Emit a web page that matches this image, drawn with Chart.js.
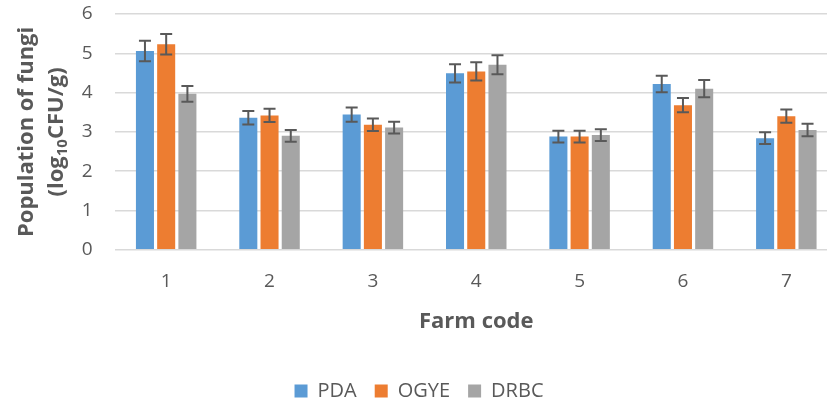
<!DOCTYPE html>
<html>
<head>
<meta charset="utf-8">
<script src="https://cdn.jsdelivr.net/npm/chart.js@4.4.0/dist/chart.umd.min.js"></script>
<style>
  html, body { margin: 0; padding: 0; background: #fff; overflow: hidden; }
  #wrap { width: 840px; height: 411px; }
</style>
</head>
<body>
<div id="wrap"><canvas id="chart" width="840" height="411"></canvas></div>
<script>
const categories = ['1', '2', '3', '4', '5', '6', '7'];

const pda     = [5.06, 3.36, 3.44, 4.49, 2.88, 4.22, 2.84];
const pdaErr  = [0.26, 0.17, 0.18, 0.23, 0.15, 0.21, 0.15];
const ogye    = [5.23, 3.42, 3.18, 4.54, 2.88, 3.68, 3.40];
const ogyeErr = [0.26, 0.17, 0.16, 0.23, 0.15, 0.18, 0.17];
const drbc    = [3.97, 2.90, 3.11, 4.71, 2.92, 4.10, 3.05];
const drbcErr = [0.20, 0.15, 0.15, 0.24, 0.15, 0.22, 0.16];

const yMin = 0, yMax = 6, yStep = 1;

const TEXT = '#595959';
const FONT = "'Open Sans', 'DejaVu Sans', sans-serif";

// error bars drawn on top of each bar
const errorBars = {
  id: 'errorBars',
  afterDatasetsDraw(chart) {
    const ctx = chart.ctx;
    const y = chart.scales.y;
    ctx.save();
    ctx.strokeStyle = TEXT;
    ctx.lineWidth = 2;
    chart.data.datasets.forEach((ds, di) => {
      const meta = chart.getDatasetMeta(di);
      meta.data.forEach((bar, i) => {
        const v = ds.data[i], e = ds.errors[i];
        const top = y.getPixelForValue(v + e);
        const bot = y.getPixelForValue(v - e);
        const x = bar.x, cap = 6;
        ctx.beginPath();
        ctx.moveTo(x, top); ctx.lineTo(x, bot);
        ctx.moveTo(x - cap, top); ctx.lineTo(x + cap, top);
        ctx.moveTo(x - cap, bot); ctx.lineTo(x + cap, bot);
        ctx.stroke();
      });
    });
    ctx.restore();
  }
};

// y axis title, second line has a subscript 10
const yTitle = {
  id: 'yTitle',
  afterDraw(chart) {
    const ctx = chart.ctx;
    const cy = (chart.chartArea.top + chart.chartArea.bottom) / 2;
    const big = 'bold 22px ' + FONT, small = 'bold 15px ' + FONT;
    ctx.save();
    ctx.fillStyle = TEXT;
    ctx.textBaseline = 'middle';

    ctx.save();
    ctx.font = big;
    ctx.translate(27, cy);
    ctx.rotate(-Math.PI / 2);
    ctx.textAlign = 'center';
    ctx.fillText('Population of fungi', 0, 0);
    ctx.restore();

    const parts = [['(log', big, 0], ['10', small, 6], ['CFU/g)', big, 0]];
    let total = 0;
    parts.forEach(p => { ctx.font = p[1]; total += ctx.measureText(p[0]).width; });
    ctx.save();
    ctx.translate(57, cy);
    ctx.rotate(-Math.PI / 2);
    ctx.textAlign = 'left';
    let x = -total / 2;
    parts.forEach(p => {
      ctx.font = p[1];
      ctx.fillText(p[0], x, p[2]);
      x += ctx.measureText(p[0]).width;
    });
    ctx.restore();
    ctx.restore();
  }
};

new Chart(document.getElementById('chart'), {
  type: 'bar',
  data: {
    labels: categories,
    datasets: [
      { label: 'PDA',  data: pda,  errors: pdaErr,  backgroundColor: '#5B9BD5' },
      { label: 'OGYE', data: ogye, errors: ogyeErr, backgroundColor: '#ED7D31' },
      { label: 'DRBC', data: drbc, errors: drbcErr, backgroundColor: '#A5A5A5' },
    ]
  },
  options: {
    responsive: false,
    animation: false,
    categoryPercentage: 0.616,
    barPercentage: 0.85,
    layout: { padding: { top: 14, right: 2, left: 0, bottom: 0 } },
    plugins: {
      legend: {
        position: 'bottom',
        labels: {
          boxWidth: 13, boxHeight: 13, padding: 18,
          color: TEXT, font: { family: FONT, size: 20 }
        }
      },
      tooltip: { enabled: false }
    },
    scales: {
      x: {
        grid: { display: false },
        border: { display: false },
        ticks: { color: TEXT, font: { family: FONT, size: 19 }, padding: 12 },
        title: {
          display: true, text: 'Farm code', color: TEXT,
          font: { family: FONT, size: 22, weight: 'bold' }, padding: { top: 4, bottom: 28 }
        }
      },
      y: {
        min: yMin, max: yMax,
        // fixed axis width; tick padding should not push the plot down
        afterFit: s => { s.width = 114.5; s.paddingTop = 0; s.paddingBottom = 0; },
        grid: { color: '#d9d9d9', lineWidth: 1.5, drawTicks: false },
        border: { display: false },
        ticks: { stepSize: yStep, color: TEXT, font: { family: FONT, size: 19 }, padding: 22 }
      }
    }
  },
  plugins: [errorBars, yTitle]
});
</script>
</body>
</html>
